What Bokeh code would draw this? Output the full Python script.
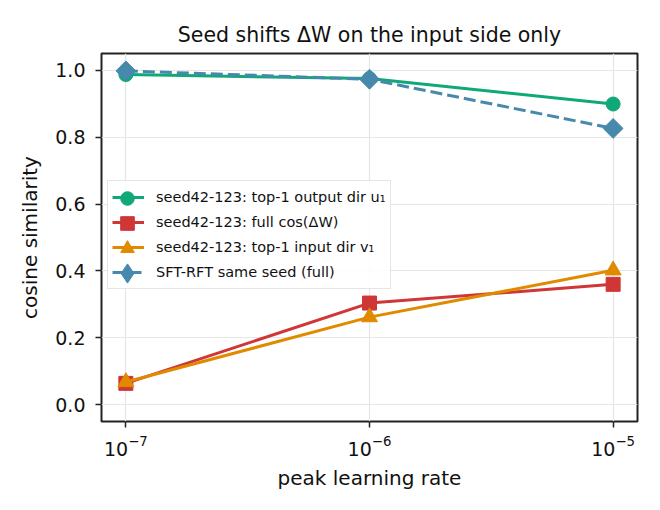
import numpy as np
from bokeh.plotting import figure
from bokeh.models import (Legend, LegendItem, FixedTicker, PrintfTickFormatter,
                          Range1d)
from bokeh.embed import file_html
from bokeh.resources import INLINE

# peak learning rates and cosine similarities per series
lr = [1e-7, 1e-6, 1e-5]
out_dir_u1 = [0.987, 0.975, 0.899]
full_cos_dw = [0.064, 0.304, 0.360]
in_dir_v1 = [0.068, 0.262, 0.402]
sft_rft_same = [0.998, 0.973, 0.826]

y_ticks = [0.0, 0.2, 0.4, 0.6, 0.8, 1.0]
x_ticks = [1e-7, 1e-6, 1e-5]

labels = [
    "seed42-123: top-1 output dir u\u2081",
    "seed42-123: full cos(\u0394W)",
    "seed42-123: top-1 input dir v\u2081",
    "SFT-RFT same seed (full)",
]

GREEN = "#10a878"
RED = "#d03636"
ORANGE = "#e08a00"
BLUE = "#4689ad"
FONT = "DejaVu Sans"

p = figure(
    width=660, height=510,
    x_axis_type="log",
    x_range=Range1d(10 ** -7.1, 10 ** -4.9),
    y_range=Range1d(-0.05, 1.05),
    output_backend="svg", toolbar_location=None,
    min_border_left=101, min_border_right=23,
    min_border_top=53, min_border_bottom=89,
    title="Seed shifts \u0394W on the input side only",
)

# frame / title styling
p.outline_line_color = "#222222"
p.outline_line_width = 2
p.outline_line_alpha = 1.0
p.background_fill_color = "white"
p.border_fill_color = "white"
p.title.text_font = FONT
p.title.text_font_size = "20.5px"
p.title.text_font_style = "normal"
p.title.text_color = "#111111"
p.title.align = "center"
p.title.standoff = 13

# grid
for g in (p.xgrid, p.ygrid):
    g.grid_line_color = "#e6e6e6"
    g.grid_line_width = 1.2
p.xgrid.ticker = FixedTicker(ticks=x_ticks)
p.ygrid.ticker = FixedTicker(ticks=y_ticks)

# axes
for ax in (p.xaxis[0], p.yaxis[0]):
    ax.axis_line_color = None
    ax.major_tick_line_color = "#222222"
    ax.major_tick_line_width = 1.5
    ax.major_tick_out = 6
    ax.major_tick_in = 0
    ax.minor_tick_line_color = None
    ax.major_label_text_font = FONT
    ax.major_label_text_font_size = "19px"
    ax.major_label_text_color = "#111111"
    ax.axis_label_text_font = FONT
    ax.axis_label_text_font_size = "20px"
    ax.axis_label_text_font_style = "normal"
    ax.axis_label_text_color = "#111111"

p.xaxis.ticker = FixedTicker(ticks=x_ticks)
p.xaxis.axis_label = "peak learning rate"
p.xaxis.major_label_standoff = 7
p.xaxis.axis_label_standoff = 7

p.yaxis.ticker = FixedTicker(ticks=y_ticks)
p.yaxis.formatter = PrintfTickFormatter(format="%.1f")
p.yaxis.axis_label = "cosine similarity"
p.yaxis.major_label_standoff = 10
p.yaxis.axis_label_standoff = 10

LW = 3

# series: line + markers
l1 = p.line(lr, out_dir_u1, line_color=GREEN, line_width=LW)
m1 = p.scatter(lr, out_dir_u1, marker="circle", size=14,
               fill_color=GREEN, line_color=GREEN)

l2 = p.line(lr, full_cos_dw, line_color=RED, line_width=LW)
m2 = p.scatter(lr, full_cos_dw, marker="square", size=14,
               fill_color=RED, line_color=RED)

l3 = p.line(lr, in_dir_v1, line_color=ORANGE, line_width=LW)
m3 = p.scatter(lr, in_dir_v1, marker="triangle", size=16,
               fill_color=ORANGE, line_color=ORANGE)

l4 = p.line(lr, sft_rft_same, line_color=BLUE, line_width=LW,
            line_dash="12 5")
# diamond key for the legend (legend keys ignore marker angle); it sits
# underneath the rotated squares drawn next, which cover it completely
m4_key = p.scatter(lr, sft_rft_same, marker="diamond", size=18,
                   fill_color=BLUE, line_color=BLUE)
m4 = p.scatter(lr, sft_rft_same, marker="square", size=14, angle=np.pi / 4,
               fill_color=BLUE, line_color=BLUE)

# legend box: lines + labels
ROW = 24
GAP = 1
PAD = 4
LEG_X, LEG_Y = 6, 132
legend = Legend(
    items=[LegendItem(label=t, renderers=[r])
           for t, r in zip(labels, [l1, l2, l3, l4])],
    location=(LEG_X, LEG_Y),
    label_text_font=FONT,
    label_text_font_size="14.5px",
    label_text_color="#111111",
    glyph_width=32,
    glyph_height=ROW,
    label_height=ROW,
    spacing=GAP,
    padding=PAD,
    margin=0,
    label_standoff=12,
    border_line_color="#cccccc",
    border_line_width=1.2,
    background_fill_color="white",
    background_fill_alpha=0.85,
)
p.add_layout(legend)

# full-size legend markers, one small transparent legend per row
n_rows = len(labels)
box_h = 2 * PAD + n_rows * ROW + (n_rows - 1) * GAP
key_cx = LEG_X + PAD + 16
for i, (r, key) in enumerate(zip([m1, m2, m3, m4_key], [34, 34, 34, 48])):
    cy = LEG_Y + box_h - PAD - ROW / 2 - i * (ROW + GAP)
    overlay = Legend(
        items=[LegendItem(label=" ", renderers=[r])],
        location=(int(round(key_cx - key / 2)), int(round(cy - key / 2))),
        glyph_width=key, glyph_height=key, label_height=key,
        padding=0, margin=0, spacing=0, label_standoff=0,
        label_text_font_size="1px",
        border_line_color=None,
        background_fill_alpha=0.0,
        inactive_fill_alpha=0.0,
    )
    p.add_layout(overlay)

open("out.html", "w").write(file_html(p, INLINE))
